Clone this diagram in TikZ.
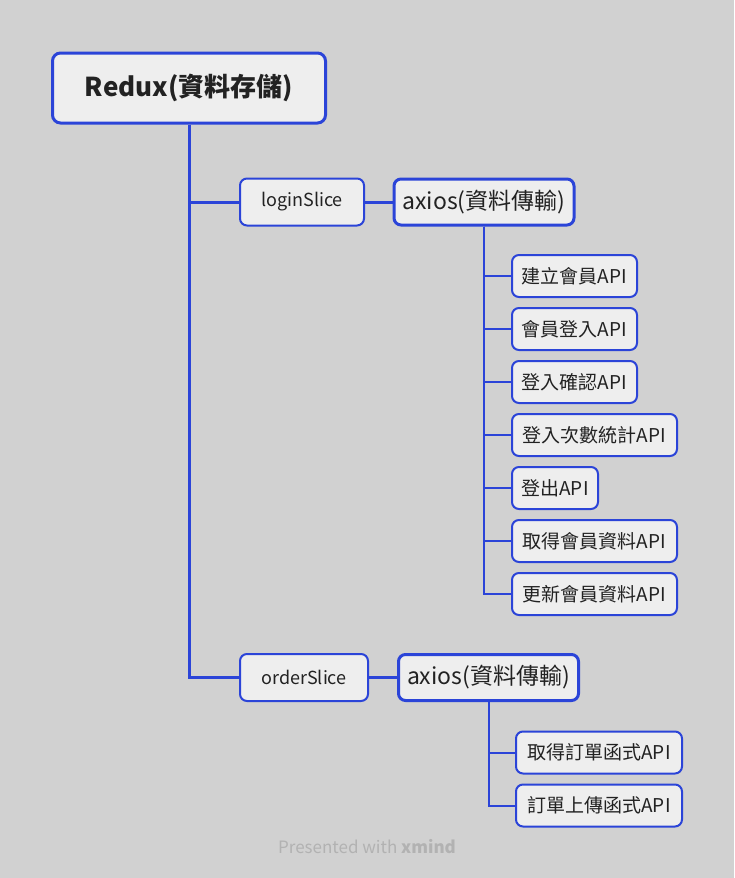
\documentclass[tikz,border=0pt]{standalone}
\usepackage{fontspec}
\setmainfont{Noto Sans CJK TC}
\definecolor{mapblue}{HTML}{2B44D8}
\definecolor{boxfill}{HTML}{EEEEEE}
\definecolor{paper}{HTML}{D1D1D1}
\definecolor{ink}{HTML}{222222}
\tikzset{
  rootbox/.style={draw=mapblue, fill=boxfill, line width=3pt, rounded corners=8pt,
    text=ink, font=\fontsize{26}{29}\selectfont\bfseries, minimum height=70pt, inner sep=0pt},
  slicebox/.style={draw=mapblue, fill=boxfill, line width=2pt, rounded corners=7pt,
    text=ink, font=\fontsize{18}{21}\selectfont, minimum height=47pt, inner sep=0pt},
  axiosbox/.style={draw=mapblue, fill=boxfill, line width=3pt, rounded corners=7pt,
    text=ink, font=\fontsize{23}{26}\selectfont, minimum height=46pt, inner sep=0pt},
  apibox/.style={draw=mapblue, fill=boxfill, line width=2pt, rounded corners=7pt,
    text=ink, font=\fontsize{19}{22}\selectfont, minimum height=42pt, inner sep=0pt},
  trunk/.style={draw=mapblue, line width=3pt},
  twig/.style={draw=mapblue, line width=2pt}
}
\newcommand{\rootnode}{\node[rootbox]}
\newcommand{\slicenode}{\node[slicebox]}
\newcommand{\axiosnode}{\node[axiosbox]}
\newcommand{\apinode}{\node[apibox]}

\begin{document}
\begin{tikzpicture}[x=1pt,y=-1pt]
	\fill[paper] (0,0) rectangle (734,878);
	\useasboundingbox (0,0) rectangle (734,878);
	% topics
	\rootnode[minimum width=273pt] (redux) at (189,88) {Redux(資料存儲)};
	\slicenode[minimum width=124pt] (login) at (302,202) {loginSlice};
	\axiosnode[minimum width=180pt] (ax1) at (484,202) {axios(資料傳輸)};
	\apinode[minimum width=125pt] (a1) at (574.5,276) {建立會員API};
	\apinode[minimum width=125pt] (a2) at (574.5,329) {會員登入API};
	\apinode[minimum width=125pt] (a3) at (574.5,382) {登入確認API};
	\apinode[minimum width=165pt] (a4) at (594.5,435) {登入次數統計API};
	\apinode[minimum width=86pt] (a5) at (555,488) {登出API};
	\apinode[minimum width=165pt] (a6) at (594.5,541) {取得會員資料API};
	\apinode[minimum width=165pt] (a7) at (594.5,594) {更新會員資料API};
	\slicenode[minimum width=128pt] (order) at (304,677.5) {orderSlice};
	\axiosnode[minimum width=180pt] (ax2) at (488.5,677.5) {axios(資料傳輸)};
	\apinode[minimum width=166pt] (b1) at (599,752.5) {取得訂單函式API};
	\apinode[minimum width=166pt] (b2) at (599,805.5) {訂單上傳函式API};
	% branches
	\path[trunk] (redux.south) |- (login.west);
	\path[trunk] (redux.south) |- (order.west);
	\path[trunk] (login) -- (ax1);
	\path[trunk] (order) -- (ax2);
	\foreach \n in {a1,a2,a3,a4,a5,a6,a7}
		\path[twig] (ax1.south) |- (\n.west);
	\foreach \n in {b1,b2}
		\path[twig] (ax2.south) |- (\n.west);
	% footer
	\node[text=black!30, font=\fontsize{17}{20}\selectfont] (credit) at (367,847)
		{Presented with \textbf{xmind}};
\end{tikzpicture}
\end{document}
